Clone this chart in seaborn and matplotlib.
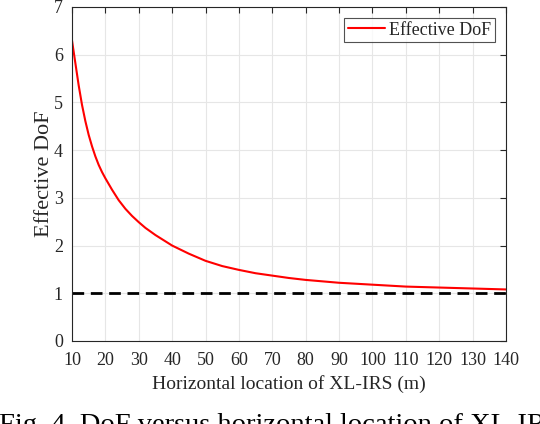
import numpy as np
import pandas as pd
import matplotlib
matplotlib.use("Agg")
import matplotlib.pyplot as plt
import seaborn as sns

# значения
location_m = [10, 11, 12, 13, 14, 15, 16, 17, 18, 19, 20, 22, 24, 26, 28, 30, 32, 35,
              40, 45, 50, 55, 60, 65, 70, 75, 80, 90, 100, 110, 120, 130, 140]
effective_dof = [6.30, 5.83, 5.36, 4.95, 4.61, 4.32, 4.08, 3.87, 3.69, 3.54, 3.41,
                 3.17, 2.95, 2.77, 2.62, 2.49, 2.37, 2.22, 2.00, 1.83, 1.68, 1.57,
                 1.49, 1.42, 1.37, 1.32, 1.28, 1.22, 1.18, 1.14, 1.12, 1.10, 1.08]
ref_level = 1
x_ticks = list(range(10, 141, 10))
y_ticks = list(range(0, 8))

df = pd.DataFrame({"x": location_m, "dof": effective_dof})

sns.set_theme(style="whitegrid")
plt.rcParams['font.family'] = ['Liberation Serif', 'DejaVu Serif']

txt = '#262626'
fig = plt.figure(figsize=(5.4, 4.24), dpi=100)
ax = fig.add_axes([0.1333, 0.1958, 0.8037, 0.7877])

sns.lineplot(data=df, x="x", y="dof", color='#ff0000', linewidth=1.5,
             label='Effective DoF', ax=ax)
ax.axhline(ref_level, color='black', linewidth=2.0, linestyle=(0, (4.2, 2.4)))

ax.set_xlim(10, 140)
ax.set_ylim(0, 7)
ax.set_xticks(x_ticks)
ax.set_yticks(y_ticks)
ax.set_xlabel('Horizontal location of XL-IRS (m)', fontsize=14, color=txt, labelpad=4)
ax.set_ylabel('Effective DoF', fontsize=16, color=txt, labelpad=0)
ax.tick_params(axis='both', labelsize=13, colors=txt, direction='in', length=4,
               width=0.8, top=True, right=True)
ax.tick_params(axis='x', pad=8)
ax.tick_params(axis='y', pad=6.5)

ax.grid(True, color='#e6e6e6', linewidth=0.8)
ax.set_facecolor('white')
for s in ax.spines.values():
    s.set_visible(True)
    s.set_color(txt)
    s.set_linewidth(0.8)

leg = ax.legend(loc='upper right', fontsize=13, frameon=True, fancybox=False,
                borderpad=0.2, handlelength=2.1, handletextpad=0.2,
                borderaxespad=0.62)
leg.get_frame().set_edgecolor(txt)
leg.get_frame().set_linewidth(0.8)

# подпись рисунка (в оригинале обрезана снизу и справа)
fig.text(-0.002, -0.018, 'Fig. 4. DoF versus horizontal location of XL-IRS.',
         fontsize=20.5, color='black', ha='left', va='baseline')

fig.savefig('out.png', dpi=100)
